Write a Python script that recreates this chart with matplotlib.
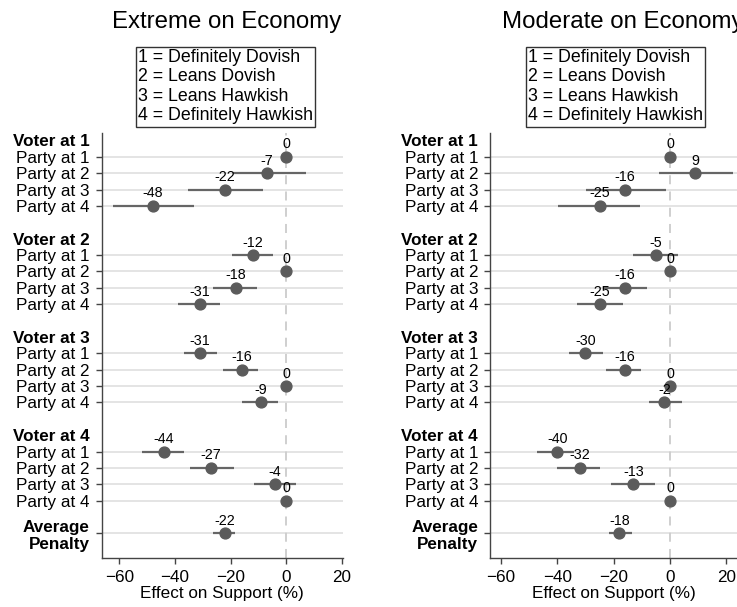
import matplotlib
matplotlib.use("Agg")
import matplotlib.pyplot as plt
import numpy as np

plt.rcParams['font.family'] = ['Liberation Sans', 'DejaVu Sans']

# panel titles and legend text
titles = ["Extreme on Economy", "Moderate on Economy"]
key_text = "1 = Definitely Dovish\n2 = Leans Dovish\n3 = Leans Hawkish\n4 = Definitely Hawkish"

voters = ["Voter at 1", "Voter at 2", "Voter at 3", "Voter at 4"]
parties = ["Party at 1", "Party at 2", "Party at 3", "Party at 4"]

# estimates (16 voter x party rows, then average penalty)
ext_est = [0, -7, -22, -48,  -12, 0, -18, -31,  -31, -16, 0, -9,  -44, -27, -4, 0,  -22]
ext_lo  = [0, -19, -35.4, -62.5,  -19.3, 0, -26.4, -38.8,  -36.6, -22.8, 0, -15.7,  -51.8, -34.6, -11.4, 0,  -26.2]
ext_hi  = [0, 7.2, -8.2, -33,  -4.6, 0, -10.6, -23.8,  -24.7, -10, 0, -3,  -36.6, -18.6, 3.5, 0,  -18.4]

mod_est = [0, 9, -16, -25,  -5, 0, -16, -25,  -30, -16, 0, -2,  -40, -32, -13, 0,  -18]
mod_lo  = [0, -4, -29.8, -39.9,  -13, 0, -23.7, -33.1,  -35.7, -22.7, 0, -7.5,  -47.3, -40, -20.9, 0,  -21.5]
mod_hi  = [0, 22.5, -1.4, -10.6,  2.9, 0, -8.3, -16.8,  -23.9, -10.4, 0, 4.1,  -34.1, -24.8, -5.3, 0,  -13.6]

xlims = [(-66.4, 20.5), (-63.9, 23.8)]
xticks = [-60, -40, -20, 0, 20]

# row layout: header, 4 parties, gap per voter group; average at the end
header_pos = [6 * g for g in range(4)]
row_pos = [6 * g + 1 + p for g in range(4) for p in range(4)]
avg_pos = 24
all_pos = row_pos + [avg_pos]
row_labels = parties * 4 + ["Average\nPenalty"]

dot = '#5b5b5b'
fs = 12.3

fig = plt.figure(figsize=(7.37, 6.07), dpi=100)
axes = [fig.add_axes([0.138, 0.0807, 0.3274, 0.700]),
        fig.add_axes([0.6649, 0.0807, 0.3351, 0.700])]

data = [(ext_est, ext_lo, ext_hi), (mod_est, mod_lo, mod_hi)]

for ax, (est, lo, hi), xl in zip(axes, data, xlims):
    ax.axvline(0, color='#cccccc', lw=1.3, dashes=(5, 4), zorder=1)
    ax.hlines(all_pos, lo, hi, color='#666666', lw=1.6, zorder=2)
    ax.plot(est, all_pos, 'o', color=dot, ms=7.8, zorder=3, clip_on=False)
    for v, y in zip(est, all_pos):
        ax.annotate("%d" % round(v), (v, y), xytext=(0, 4), textcoords='offset points',
                    ha='center', va='bottom', fontsize=10.3, color='black', zorder=4)

    ax.set_xlim(*xl)
    ax.set_ylim(25.5, -0.45)
    ax.set_xticks(xticks)
    ax.set_yticks(all_pos)
    ax.set_yticklabels(row_labels)
    ax.get_yticklabels()[-1].set_fontweight('bold')
    ax.set_yticks(header_pos, minor=True)
    ax.set_yticklabels(voters, minor=True, fontweight='bold')

    ax.tick_params(axis='y', which='major', length=4.3, width=1, pad=4.3, labelsize=fs, color='#444444')
    ax.tick_params(axis='y', which='minor', length=0, pad=8.6, labelsize=fs)
    ax.tick_params(axis='x', length=4.5, width=1, pad=4, labelsize=fs, color='#444444')
    ax.grid(axis='y', which='major', color='#e2e2e2', lw=1.3, zorder=0)
    ax.set_axisbelow(True)
    for s in ['top', 'right']:
        ax.spines[s].set_visible(False)
    for s in ['left', 'bottom']:
        ax.spines[s].set_color('#444444')
        ax.spines[s].set_linewidth(1)
    ax.set_xlabel("Effect on Support (%)", fontsize=fs, labelpad=1)

# titles and keys
fig.text(112 / 737, 1 - 28 / 607, titles[0], fontsize=17.3, ha='left', va='baseline')
fig.text(502 / 737, 1 - 28 / 607, titles[1], fontsize=17.3, ha='left', va='baseline')
for x0 in [138 / 737, 528 / 737]:
    fig.text(x0, 1 - 49 / 607, key_text, fontsize=12.8, ha='left', va='top', linespacing=1.19,
             bbox=dict(boxstyle='square,pad=0.12', fc='white', ec='#333333', lw=1))

fig.savefig("out.png", dpi=100)
